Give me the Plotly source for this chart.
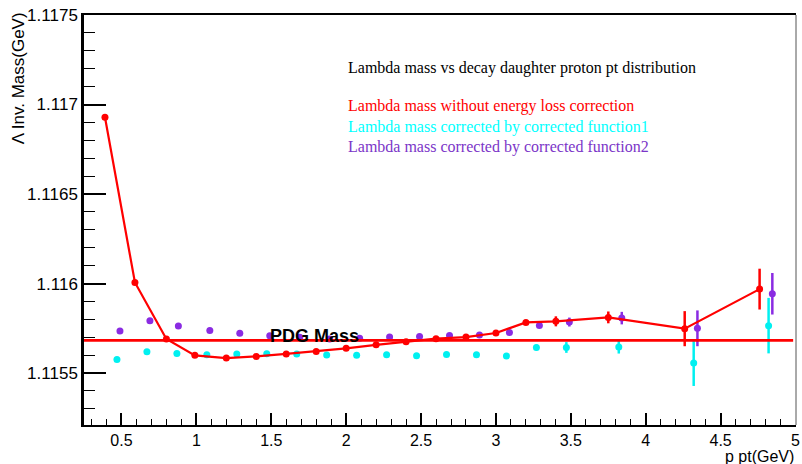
import plotly.graph_objects as go

# Lambda invariant mass vs daughter proton pt
# Uncorrected (energy loss not corrected)
pt_raw = [0.39, 0.59, 0.80, 0.99, 1.20, 1.40, 1.60, 1.80, 2.00, 2.20, 2.40,
          2.60, 2.80, 3.00, 3.20, 3.40, 3.75, 4.26, 4.76]
mass_raw = [1.116929, 1.116006, 1.115690, 1.115599, 1.115584, 1.115593,
            1.115607, 1.115621, 1.115638, 1.115658, 1.115675, 1.115692,
            1.115701, 1.115724, 1.115783, 1.115789, 1.115811, 1.115748,
            1.115969]
err_raw = [0.000005, 0.000005, 0.000005, 0.000005, 0.000005, 0.000005,
           0.000005, 0.000005, 0.000005, 0.000005, 0.000005, 0.000005,
           0.000005, 0.000006, 0.000010, 0.000028, 0.000033, 0.000098,
           0.000114]

# Corrected by function 1
pt_corr1 = [0.47, 0.67, 0.87, 1.07, 1.27, 1.47, 1.67, 1.87, 2.07, 2.27,
            2.47, 2.67, 2.87, 3.07, 3.27, 3.47, 3.82, 4.32, 4.82]
mass_corr1 = [1.115576, 1.115619, 1.115610, 1.115603, 1.115607, 1.115608,
              1.115607, 1.115601, 1.115599, 1.115603, 1.115597, 1.115604,
              1.115603, 1.115596, 1.115643, 1.115643, 1.115646, 1.115556,
              1.115765]
err_corr1 = [0.000005, 0.000005, 0.000005, 0.000005, 0.000005, 0.000005,
             0.000005, 0.000005, 0.000005, 0.000005, 0.000005, 0.000005,
             0.000005, 0.000006, 0.000016, 0.000030, 0.000037, 0.000128,
             0.000155]

# Corrected by function 2
pt_corr2 = [0.49, 0.69, 0.88, 1.09, 1.29, 1.49, 1.69, 1.89, 2.09, 2.29,
            2.49, 2.69, 2.89, 3.09, 3.29, 3.49, 3.84, 4.345, 4.845]
mass_corr2 = [1.115735, 1.115792, 1.115763, 1.115738, 1.115722, 1.115709,
              1.115700, 1.115690, 1.115695, 1.115701, 1.115705, 1.115710,
              1.115713, 1.115727, 1.115766, 1.115785, 1.115807, 1.115750,
              1.115943]
err_corr2 = [0.000005, 0.000005, 0.000005, 0.000005, 0.000005, 0.000005,
             0.000005, 0.000005, 0.000005, 0.000005, 0.000005, 0.000005,
             0.000005, 0.000006, 0.000010, 0.000025, 0.000035, 0.000100,
             0.000116]

PDG_MASS = 1.115683

x_tickvals = [0.5, 1, 1.5, 2, 2.5, 3, 3.5, 4, 4.5, 5]
x_ticktext = ["0.5", "1", "1.5", "2", "2.5", "3", "3.5", "4", "4.5", "5"]
y_tickvals = [1.1155, 1.116, 1.1165, 1.117, 1.1175]
y_ticktext = ["1.1155", "1.116", "1.1165", "1.117", "1.1175"]

RED = "#ff0000"
CYAN = "#00f0f0"
PURPLE = "#8a2be2"

fig = go.Figure()

fig.add_trace(go.Scatter(
    x=pt_corr1, y=mass_corr1, mode="markers",
    marker=dict(color=CYAN, size=7),
    error_y=dict(type="data", array=err_corr1, color=CYAN, thickness=2.5, width=0),
    showlegend=False,
))
fig.add_trace(go.Scatter(
    x=pt_corr2, y=mass_corr2, mode="markers",
    marker=dict(color=PURPLE, size=7),
    error_y=dict(type="data", array=err_corr2, color=PURPLE, thickness=2.5, width=0),
    showlegend=False,
))
fig.add_trace(go.Scatter(
    x=pt_raw, y=mass_raw, mode="lines+markers",
    line=dict(color=RED, width=2.2),
    marker=dict(color=RED, size=7),
    error_y=dict(type="data", array=err_raw, color=RED, thickness=2.5, width=0),
    showlegend=False,
))

# PDG reference mass line
fig.add_shape(type="line", xref="paper", x0=0, x1=0.996, yref="y",
              y0=PDG_MASS, y1=PDG_MASS, line=dict(color=RED, width=2.8))
# thin right frame edge
fig.add_shape(type="line", xref="paper", x0=1, x1=1, yref="paper", y0=0, y1=1,
              line=dict(color="#555555", width=1))

fig.add_annotation(x=1.5, y=PDG_MASS, xref="x", yref="y", text="<b>PDG Mass</b>",
                   showarrow=False, xanchor="left", yanchor="bottom", yshift=-8,
                   xshift=-3,
                   font=dict(family="Liberation Sans, Arial", size=18, color="black"))

serif = "Liberation Serif, Times New Roman, serif"
texts = [
    ("Lambda mass vs decay daughter proton pt distribution", "black", 68),
    ("Lambda mass without energy loss correction", RED, 106),
    ("Lambda mass corrected by corrected function1", "#00ffff", 127),
    ("Lambda mass corrected by corrected function2", "#7b35c8", 147),
]
for txt, col, ypx in texts:
    fig.add_annotation(xref="paper", yref="paper",
                       x=(347 - 84) / 716, y=(425 - ypx) / 410,
                       text=txt, showarrow=False, xanchor="left", yanchor="middle",
                       font=dict(family=serif, size=16, color=col))

sans = "Liberation Sans, Arial, sans-serif"
fig.add_annotation(xref="paper", yref="paper", x=(18 - 84) / 716, y=1 + 5 / 410,
                   text="\u039b Inv. Mass(GeV)", textangle=-90, showarrow=False,
                   xanchor="center", yanchor="top",
                   font=dict(family=sans, size=17, color="black"))
fig.add_annotation(xref="paper", yref="paper", x=1.0, y=(425 - 456) / 410,
                   text="p pt(GeV)", showarrow=False,
                   xanchor="right", yanchor="middle",
                   font=dict(family=sans, size=16, color="black"))

fig.update_xaxes(
    range=[0.25, 5.003], tickvals=x_tickvals, ticktext=x_ticktext,
    ticks="inside", ticklen=12, tickwidth=1.5, tickcolor="black",
    showline=True, linecolor="black", linewidth=2, mirror=True,
    showgrid=False, zeroline=False, ticklabeloverflow="allow",
    tickfont=dict(family=sans, size=16, color="black"),
    minor=dict(dtick=0.1, tick0=0, ticks="inside", ticklen=6, tickwidth=1.2,
               tickcolor="black", showgrid=False),
)
fig.update_yaxes(
    range=[1.11521, 1.1175], tickvals=y_tickvals, ticktext=y_ticktext,
    ticks="inside", ticklen=22, tickwidth=1.5, tickcolor="black",
    showline=True, linecolor="black", linewidth=2.5, mirror=False,
    showgrid=False, zeroline=False,
    tickfont=dict(family=sans, size=17, color="black"),
    minor=dict(dtick=0.0001, tick0=1.1155, ticks="inside", ticklen=11, tickwidth=1.2,
               tickcolor="black", showgrid=False),
)

fig.update_layout(
    width=802, height=464,
    margin=dict(l=84, r=2, t=15, b=39),
    paper_bgcolor="white", plot_bgcolor="white",
    showlegend=False,
)

fig.write_html("out.html")
